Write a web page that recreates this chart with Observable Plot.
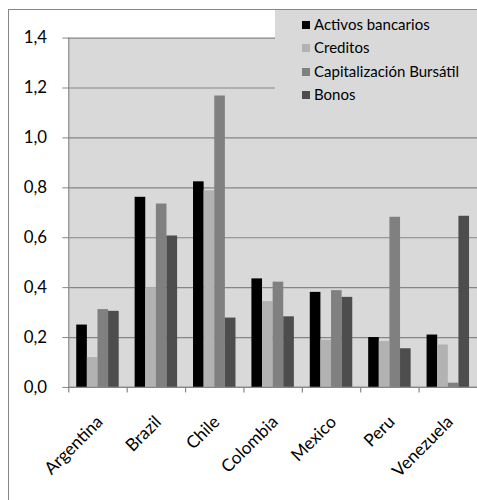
<!DOCTYPE html>
<html>
<head>
<meta charset="utf-8">
<script src="https://cdn.jsdelivr.net/npm/d3@7"></script>
<script src="https://cdn.jsdelivr.net/npm/@observablehq/plot@0.6"></script>
<style>
  html, body { margin: 0; padding: 0; background: #fff; overflow: hidden; }
  #wrap { position: relative; width: 477px; height: 500px; overflow: hidden; font-family: Lato, "Open Sans", sans-serif; }
  #chart { position: absolute; left: 0; top: 0; }
  #border { position: absolute; left: 8px; top: 9px; width: 500px; height: 520px; border: 1px solid #868686; box-sizing: border-box; pointer-events: none; }
  #legend { position: absolute; left: 275px; top: 10px; width: 220px; height: 112px; background: #d9d9d9; }
  .item { position: absolute; left: 27px; font-size: 15px; color: #000; white-space: nowrap; line-height: 16px; }
  .sw { display: inline-block; width: 8px; height: 8px; margin-right: 4px; vertical-align: 1px; }
  #chart svg g[aria-label="y-axis tick label"] text { font-size: 17px; }
  #chart svg g[aria-label="x-axis tick label"] text { font-size: 17.5px; }
</style>
</head>
<body>
<div id="wrap">
  <div id="chart"></div>
  <div id="legend"></div>
  <div id="border"></div>
</div>
<script>
const countries = ["Argentina", "Brazil", "Chile", "Colombia", "Mexico", "Peru", "Venezuela"];
const seriesNames = ["Activos bancarios", "Creditos", "Capitalización Bursátil", "Bonos"];
const activos = [0.25, 0.762, 0.824, 0.435, 0.381, 0.20, 0.21];
const creditos = [0.12, 0.40, 0.788, 0.344, 0.189, 0.184, 0.17];
const capitalizacion = [0.312, 0.735, 1.168, 0.422, 0.388, 0.682, 0.017];
const bonos = [0.305, 0.607, 0.278, 0.283, 0.361, 0.155, 0.686];
const seriesColors = ["#000000", "#b2b2b2", "#808080", "#4d4d4d"];
const yTicks = [0, 0.2, 0.4, 0.6, 0.8, 1.0, 1.2, 1.4];

const seriesValues = [activos, creditos, capitalizacion, bonos];
const rows = [];
seriesNames.forEach((s, i) => countries.forEach((c, j) => rows.push({country: c, series: s, value: seriesValues[i][j]})));

const W = 482, H = 500, ML = 69, MR = 0, MT = 38, MB = 109;
const bw = (W - ML - MR) / countries.length;
const barW = bw / (seriesNames.length + 1.5);
const grid = "#868686";

const barMarks = seriesNames.map((s, i) => Plot.barY(rows.filter(d => d.series === s), {
  x: "country", y: "value", fill: seriesColors[i],
  insetLeft: 0.75 * barW + i * barW,
  insetRight: bw - 0.75 * barW - (i + 1) * barW
}));

const fmt = v => d3.format(".1f")(v).replace(".", ",");

const plot = Plot.plot({
  width: W, height: H,
  marginLeft: ML, marginRight: MR, marginTop: MT, marginBottom: MB,
  style: {fontFamily: "Lato, 'Open Sans', sans-serif", fontSize: "16px", background: "transparent", overflow: "visible"},
  x: {domain: countries, padding: 0, axis: null},
  y: {domain: [0, 1.4], axis: null},
  marks: [
    Plot.frame({fill: "#d9d9d9", stroke: null}),
    Plot.gridY(yTicks, {stroke: grid, strokeOpacity: 1, strokeWidth: 1.2}),
    Plot.axisY(yTicks, {tickSize: 6, tickPadding: 16, tickFormat: fmt, stroke: grid, fontSize: 17, fill: "#000", label: null, ariaLabel: "y-axis"}),
    ...barMarks,
    Plot.ruleY([0], {stroke: grid, strokeWidth: 1.2}),
    Plot.ruleX([countries[0]], {dx: -bw / 2, y1: 0, y2: 1.4, stroke: grid, strokeWidth: 1.2}),
    Plot.ruleX(countries, {dx: -bw / 2, y1: 0, y2: -0.022, stroke: grid, strokeWidth: 1.2}),
    Plot.axisX(countries, {tickSize: 0, tickPadding: 32, tickRotate: -45, fontSize: 17.5, fill: "#000", dx: 2, label: null})
  ]
});
document.getElementById("chart").appendChild(plot);

const legend = document.getElementById("legend");
seriesNames.forEach((s, i) => {
  const div = document.createElement("div");
  div.className = "item";
  div.style.top = (6 + i * 23.4) + "px";
  const sw = document.createElement("span");
  sw.className = "sw";
  sw.style.background = seriesColors[i];
  div.appendChild(sw);
  div.appendChild(document.createTextNode(s));
  legend.appendChild(div);
});
</script>
</body>
</html>
